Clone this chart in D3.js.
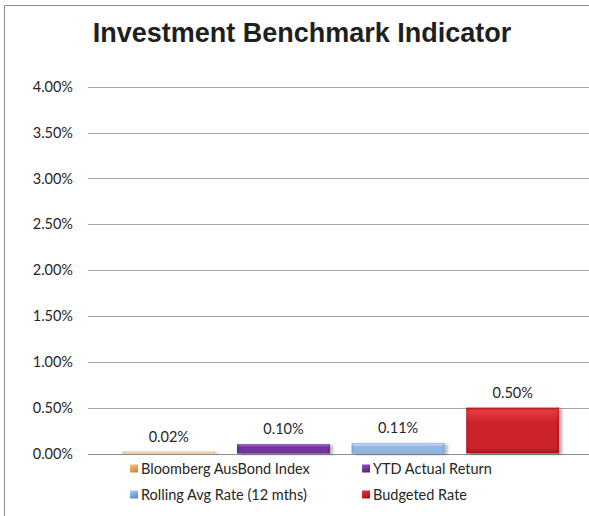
<!DOCTYPE html>
<html>
<head>
<meta charset="utf-8">
<script src="https://cdn.jsdelivr.net/npm/d3@7"></script>
<style>
  html, body { margin: 0; padding: 0; background: #ffffff; }
  svg { display: block; }
</style>
</head>
<body>
<svg id="chart" width="589" height="516"></svg>
<script>
// Benchmark series (percent as fractions)
const categories = ["Bloomberg AusBond Index", "YTD Actual Return", "Rolling Avg Rate (12 mths)", "Budgeted Rate"];
const values = [0.0002, 0.0010, 0.0011, 0.0050];
const valueLabels = ["0.02%", "0.10%", "0.11%", "0.50%"];
const yTicks = [0, 0.005, 0.01, 0.015, 0.02, 0.025, 0.03, 0.035, 0.04];
const chartTitle = "Investment Benchmark Indicator";

// Per-series palette: [highlight, body, edge]
const palette = [
  ["#fbe3c6", "#f3cfa4", "#dcae78"],
  ["#9a62c6", "#7530a2", "#4e1a74"],
  ["#c4dcf5", "#90b6e3", "#6a93c8"],
  ["#e63b3f", "#cc2129", "#9c151b"]
];
// Legend swatch palette: [top, bottom]
const swatch = [
  ["#f6c48a", "#d98a3a"],
  ["#9355c0", "#5e2088"],
  ["#b3d0f0", "#5f8fcc"],
  ["#e4383d", "#a8161c"]
];

const svg = d3.select("#chart");
const W = 589, H = 516;
const font = "Lato, 'Open Sans', sans-serif";
const fontSize = 14.5;

const defs = svg.append("defs");
palette.forEach((p, i) => {
  const g = defs.append("linearGradient")
    .attr("id", "barGrad" + i)
    .attr("x1", 0).attr("y1", 0).attr("x2", 0).attr("y2", 1);
  g.append("stop").attr("offset", "0%").attr("stop-color", p[2]);
  g.append("stop").attr("offset", "6%").attr("stop-color", p[0]);
  g.append("stop").attr("offset", "35%").attr("stop-color", p[1]);
  g.append("stop").attr("offset", "88%").attr("stop-color", p[1]);
  g.append("stop").attr("offset", "100%").attr("stop-color", p[2]);
  const h = defs.append("linearGradient")
    .attr("id", "barSide" + i)
    .attr("x1", 0).attr("y1", 0).attr("x2", 1).attr("y2", 0);
  h.append("stop").attr("offset", "0%").attr("stop-color", p[2]).attr("stop-opacity", 0.55);
  h.append("stop").attr("offset", "3%").attr("stop-color", p[2]).attr("stop-opacity", 0);
  h.append("stop").attr("offset", "97%").attr("stop-color", p[2]).attr("stop-opacity", 0);
  h.append("stop").attr("offset", "100%").attr("stop-color", p[2]).attr("stop-opacity", 0.55);
});
swatch.forEach((s, i) => {
  const g = defs.append("linearGradient")
    .attr("id", "swatch" + i)
    .attr("x1", 0).attr("y1", 0).attr("x2", 0.4).attr("y2", 1);
  g.append("stop").attr("offset", "0%").attr("stop-color", s[0]);
  g.append("stop").attr("offset", "100%").attr("stop-color", s[1]);
});
const shadow = defs.append("filter").attr("id", "barShadow")
  .attr("x", "-10%").attr("y", "-10%").attr("width", "130%").attr("height", "130%");
shadow.append("feGaussianBlur").attr("in", "SourceAlpha").attr("stdDeviation", 1.5).attr("result", "b");
shadow.append("feOffset").attr("in", "b").attr("dx", 2.5).attr("dy", 0.5).attr("result", "o");
shadow.append("feComponentTransfer").attr("in", "o").attr("result", "s")
  .append("feFuncA").attr("type", "linear").attr("slope", 0.3);
const merge = shadow.append("feMerge");
merge.append("feMergeNode").attr("in", "s");
merge.append("feMergeNode").attr("in", "SourceGraphic");

// Chart frame (top and left edges visible)
svg.append("path")
  .attr("d", `M4.5,${H} V5.5 H${W}`)
  .attr("fill", "none").attr("stroke", "#8c8c8c").attr("stroke-width", 1);

// Title
svg.append("text")
  .attr("x", 302).attr("y", 42)
  .attr("text-anchor", "middle")
  .attr("font-family", "'Liberation Sans', Arial, sans-serif")
  .attr("font-weight", "bold")
  .attr("font-size", 27)
  .attr("fill", "#1f1f1f")
  .text(chartTitle);

// Scales
const y = d3.scaleLinear().domain([0, 0.04]).range([453.5, 86.7]);
const x = d3.scaleBand().domain(categories).range([111.5, 570])
  .paddingInner(0.19).paddingOuter(0.095);

// Gridlines + tick labels
const gridLeft = 88, gridRight = W;
const yAxis = d3.axisLeft(y).tickValues(yTicks).tickFormat(d3.format(".2%"))
  .tickSize(-(gridRight - gridLeft)).tickPadding(15);
const gAxis = svg.append("g").attr("transform", `translate(${gridLeft},0)`).call(yAxis);
gAxis.select(".domain").remove();
gAxis.selectAll(".tick line").attr("stroke", "#a6a6a6").attr("stroke-width", 1)
  .attr("shape-rendering", "crispEdges");
gAxis.selectAll(".tick text")
  .attr("font-family", font).attr("font-size", fontSize).attr("fill", "#262626");
gAxis.selectAll(".tick").filter(d => d === 0).select("line").attr("stroke", "#8c8c8c");

// Bars
const bars = svg.append("g");
categories.forEach((c, i) => {
  const bx = x(c), bw = x.bandwidth();
  const top = y(values[i]), h = Math.max(y(0) - top, 1.5);
  const g = bars.append("g").attr("filter", "url(#barShadow)");
  g.append("rect").attr("x", bx).attr("y", y(0) - h).attr("width", bw).attr("height", h)
    .attr("fill", `url(#barGrad${i})`);
  g.append("rect").attr("x", bx).attr("y", y(0) - h).attr("width", bw).attr("height", h)
    .attr("fill", `url(#barSide${i})`);
});

// Value labels
svg.append("g").selectAll("text")
  .data(categories)
  .join("text")
  .attr("x", d => x(d) + x.bandwidth() / 2)
  .attr("y", (d, i) => y(values[i]) - 10)
  .attr("text-anchor", "middle")
  .attr("font-family", font).attr("font-size", fontSize).attr("fill", "#262626")
  .text((d, i) => valueLabels[i]);

// Legend (two columns, two rows)
const legendPos = [[130, 469], [362, 469], [130, 495], [362, 495]];
const legend = svg.append("g");
categories.forEach((c, i) => {
  const [lx, ly] = legendPos[i];
  legend.append("rect").attr("x", lx).attr("y", ly - 4.5).attr("width", 8).attr("height", 8)
    .attr("fill", `url(#swatch${i})`);
  legend.append("text").attr("x", lx + 11).attr("y", ly).attr("dy", "0.35em")
    .attr("font-family", font).attr("font-size", fontSize).attr("fill", "#262626")
    .text(c);
});
</script>
</body>
</html>
